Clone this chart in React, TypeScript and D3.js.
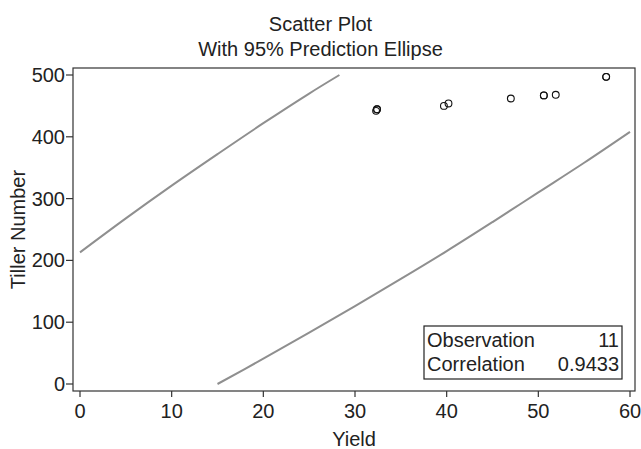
import React from "react";
import * as d3 from "d3";

// observations (Yield vs Tiller Number)
const yieldVals = [32.3, 32.4, 32.4, 39.7, 40.2, 47.0, 50.6, 50.6, 51.9, 57.4, 57.4];
const tillerVals = [442, 444.5, 444.5, 450, 454, 462, 467, 467, 468, 497, 497];

// 95% prediction ellipse, the two arcs that fall inside the axis range
const upperArcX = [0, 5, 10, 15, 20, 25, 28.3];
const upperArcY = [213, 268, 321, 372, 422, 470, 500];
const lowerArcX = [15, 20, 25, 30, 35, 40, 45, 50, 55, 60];
const lowerArcY = [0, 41, 83, 126, 170, 215, 262, 310, 358, 408];

const xTicks = [0, 10, 20, 30, 40, 50, 60];
const yTicks = [0, 100, 200, 300, 400, 500];

const statLabels = ["Observation", "Correlation"];
const statValues = ["11", "0.9433"];

const width = 641;
const height = 449;
const frame = { left: 73, top: 68, right: 635, bottom: 391 };
const font = "'Liberation Sans', Arial, sans-serif";
const fs = 20;

const App = () => {
  const x = d3.scaleLinear().domain([0, 60]).range([80, 630]);
  const y = d3.scaleLinear().domain([0, 500]).range([384, 75]);

  const line = d3
    .line<[number, number]>()
    .x((d) => x(d[0]))
    .y((d) => y(d[1]))
    .curve(d3.curveCatmullRom);

  const upper = line(upperArcX.map((v, i) => [v, upperArcY[i]]));
  const lower = line(lowerArcX.map((v, i) => [v, lowerArcY[i]]));

  const box = { left: 424, top: 326, right: 622, bottom: 379 };

  return (
    <svg
      width={width}
      height={height}
      style={{ position: "absolute", left: 0, top: 0, background: "#fff" }}
      fontFamily={font}
    >
      <text x={width / 2} y={31} textAnchor="middle" fontSize={fs} fill="#222">
        Scatter Plot
      </text>
      <text x={width / 2} y={56} textAnchor="middle" fontSize={fs} fill="#222">
        With 95% Prediction Ellipse
      </text>

      <rect
        x={frame.left}
        y={frame.top}
        width={frame.right - frame.left}
        height={frame.bottom - frame.top}
        fill="none"
        stroke="#333"
        strokeWidth={1.2}
      />

      {yTicks.map((t) => (
        <g key={"y" + t}>
          <line x1={frame.left - 7} x2={frame.left} y1={y(t)} y2={y(t)} stroke="#333" strokeWidth={1.2} />
          <text x={frame.left - 8} y={y(t)} dy="0.35em" textAnchor="end" fontSize={fs} fill="#222">
            {t}
          </text>
        </g>
      ))}

      {xTicks.map((t) => (
        <g key={"x" + t}>
          <line x1={x(t)} x2={x(t)} y1={frame.bottom} y2={frame.bottom + 6} stroke="#333" strokeWidth={1.2} />
          <text x={x(t)} y={418} textAnchor="middle" fontSize={fs} fill="#222">
            {t}
          </text>
        </g>
      ))}

      <text x={(frame.left + frame.right) / 2} y={446} textAnchor="middle" fontSize={fs} fill="#222">
        Yield
      </text>
      <text
        transform={`translate(25, ${(frame.top + frame.bottom) / 2}) rotate(-90)`}
        textAnchor="middle"
        fontSize={fs}
        fill="#222"
      >
        Tiller Number
      </text>

      <path d={upper ?? ""} fill="none" stroke="#8f8f8f" strokeWidth={2} />
      <path d={lower ?? ""} fill="none" stroke="#8f8f8f" strokeWidth={2} />

      {yieldVals.map((v, i) => (
        <circle
          key={"p" + i}
          cx={x(v)}
          cy={y(tillerVals[i])}
          r={3.4}
          fill="none"
          stroke="#111"
          strokeWidth={1.1}
        />
      ))}

      <rect
        x={box.left}
        y={box.top}
        width={box.right - box.left}
        height={box.bottom - box.top}
        fill="#fff"
        stroke="#222"
        strokeWidth={1.2}
      />
      {statLabels.map((s, i) => (
        <g key={s}>
          <text x={box.left + 3} y={box.top + 21 + i * 24} fontSize={fs} fill="#222">
            {s}
          </text>
          <text x={box.right - 3} y={box.top + 21 + i * 24} textAnchor="end" fontSize={fs} fill="#222">
            {statValues[i]}
          </text>
        </g>
      ))}
    </svg>
  );
};

export default App;
